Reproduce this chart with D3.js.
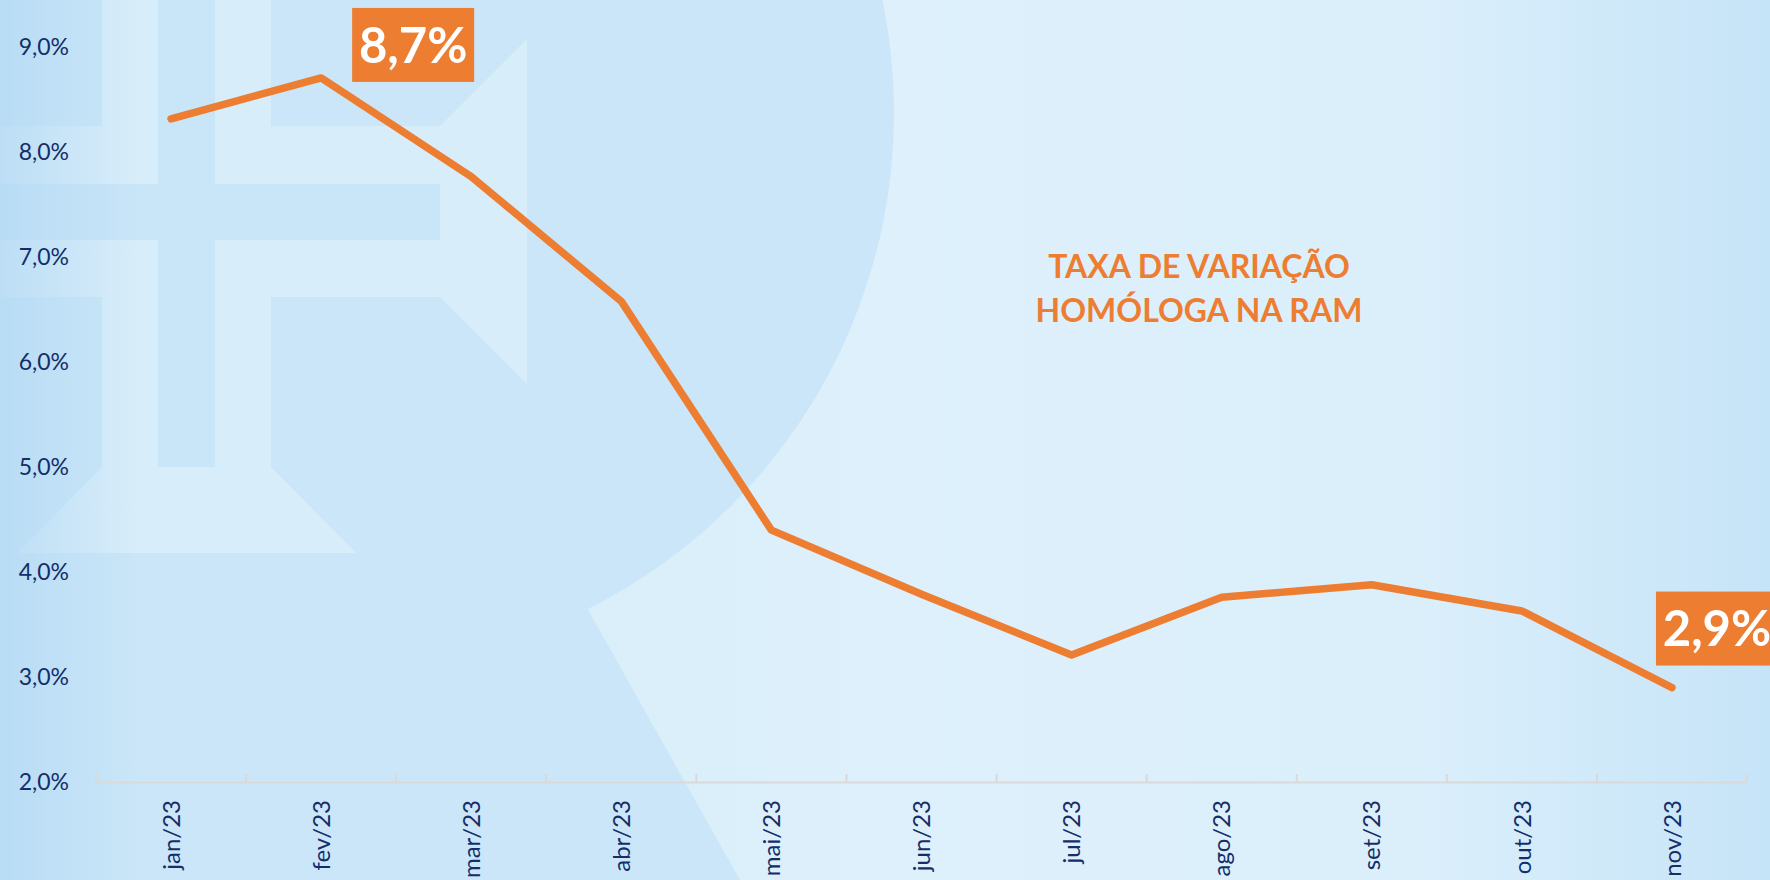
<!DOCTYPE html>
<html>
<head>
<meta charset="utf-8">
<script src="https://cdn.jsdelivr.net/npm/d3@7"></script>
<style>
  html, body { margin: 0; padding: 0; background: #dceffb; }
  svg { display: block; }
</style>
</head>
<body>
<div id="chart"></div>
<script>
// ---- data ----
const months = ["jan/23","fev/23","mar/23","abr/23","mai/23","jun/23","jul/23","ago/23","set/23","out/23","nov/23"];
const values = [8.32, 8.71, 7.77, 6.58, 4.40, 3.79, 3.21, 3.76, 3.88, 3.63, 2.90];
const yTicks = [2, 3, 4, 5, 6, 7, 8, 9];
const yTickLabels = ["2,0%","3,0%","4,0%","5,0%","6,0%","7,0%","8,0%","9,0%"];
const highlighted = ["fev/23", "nov/23"];
const titleLines = ["TAXA DE VARIAÇÃO", "HOMÓLOGA NA RAM"];

// ---- layout / style ----
const W = 1770, H = 880;
const orange = "#ed7d31";
const navy = "#132e69";
const labelPlacement = { "fev/23": { dx: 31, dy: -70 }, "nov/23": { dx: -16, dy: -96 } };

const svg = d3.select("#chart").append("svg").attr("width", W).attr("height", H);
const defs = svg.append("defs");

const bg = defs.append("linearGradient").attr("id", "bg").attr("x1", 0).attr("x2", 1).attr("y1", 0).attr("y2", 0);
[["0%", "#d4ecfa"], ["50%", "#ddf0fb"], ["80%", "#dbeffb"], ["100%", "#c6e4f8"]]
  .forEach(([o, c]) => bg.append("stop").attr("offset", o).attr("stop-color", c));

const leftG = defs.append("linearGradient").attr("id", "leftG").attr("x1", 0).attr("x2", 1).attr("y1", 0).attr("y2", 0);
leftG.append("stop").attr("offset", "0%").attr("stop-color", "#b3d9f4").attr("stop-opacity", 0.75);
leftG.append("stop").attr("offset", "100%").attr("stop-color", "#b3d9f4").attr("stop-opacity", 0);

// ---- background ----
svg.append("rect").attr("width", W).attr("height", H).attr("fill", "url(#bg)");

const darkFill = "#cae6f8";
svg.append("circle").attr("cx", 339).attr("cy", 113).attr("r", 555).attr("fill", darkFill);
svg.append("polygon").attr("points", "0,113 339,113 587,608 740,880 0,880").attr("fill", darkFill);

const lightFill = "#d8edfa";
// cross outline (light)
svg.append("polygon").attr("points", "102,0 271,0 271,467 356,553 17,553 102,467").attr("fill", lightFill);
svg.append("polygon").attr("points", "0,126 440,126 527,39 527,384 440,297 0,297").attr("fill", lightFill);
svg.append("rect").attr("x", 102).attr("y", 126).attr("width", 169).attr("height", 171).attr("fill", lightFill);
// inner bars
svg.append("rect").attr("x", 158).attr("y", 0).attr("width", 57).attr("height", 467).attr("fill", "#c9e5f8");
svg.append("rect").attr("x", 0).attr("y", 184).attr("width", 440).attr("height", 56).attr("fill", "#c9e5f8");

svg.append("rect").attr("width", 140).attr("height", H).attr("fill", "url(#leftG)");

// ---- scales ----
const x = d3.scaleBand().domain(months).range([96, 1747]).paddingInner(0).paddingOuter(0);
const y = d3.scaleLinear().domain([2, 9]).range([782, 47.5]);
const cx = m => x(m) + x.bandwidth() / 2;

// ---- y labels ----
const yAxis = d3.axisLeft(y).tickValues(yTicks).tickSize(0).tickPadding(0)
  .tickFormat((d, i) => yTickLabels[i]);
const gy = svg.append("g").attr("transform", "translate(69,0)").call(yAxis);
gy.select(".domain").remove();
gy.selectAll("text").attr("fill", navy).attr("font-family", "Lato, 'Open Sans', sans-serif")
  .attr("font-size", 23).attr("text-anchor", "end").attr("x", 0);

// ---- x axis ----
const xAxis = d3.axisBottom(x).tickSize(0).tickSizeOuter(0);
const gx = svg.append("g").attr("transform", "translate(0,782)").call(xAxis);
gx.select(".domain").attr("stroke", "#d9d9d9").attr("stroke-width", 2);
gx.selectAll("text")
  .attr("fill", navy).attr("font-family", "Lato, 'Open Sans', sans-serif").attr("font-size", 24)
  .attr("transform", "rotate(-90)").attr("x", -18).attr("y", 0).attr("dy", "0.36em")
  .attr("text-anchor", "end");
const bounds = months.map(m => x(m)).concat([x.range()[1]]);
gx.selectAll("line.bound").data(bounds).join("line").attr("class", "bound")
  .attr("x1", d => d).attr("x2", d => d).attr("y1", 0).attr("y2", -8)
  .attr("stroke", "#d9d9d9").attr("stroke-width", 2);

// ---- line ----
const data = months.map((m, i) => ({ m, v: values[i] }));
const line = d3.line().x(d => cx(d.m)).y(d => y(d.v));
svg.append("path").datum(data).attr("d", line)
  .attr("fill", "none").attr("stroke", orange).attr("stroke-width", 7.5)
  .attr("stroke-linejoin", "round").attr("stroke-linecap", "round");

// ---- highlight labels ----
const fmt = v => d3.format(".1f")(v).replace(".", ",") + "%";
const hl = svg.append("g");
data.filter(d => highlighted.includes(d.m)).forEach(d => {
  const p = labelPlacement[d.m];
  const bx = cx(d.m) + p.dx, by = y(d.v) + p.dy;
  hl.append("rect").attr("x", bx).attr("y", by).attr("width", 122).attr("height", 74).attr("fill", orange);
  hl.append("text").attr("x", bx + 61).attr("y", by + 37).attr("dy", "0.36em")
    .attr("text-anchor", "middle").attr("fill", "#fff")
    .attr("font-family", "Lato, 'Open Sans', sans-serif").attr("font-weight", 700).attr("font-size", 49)
    .text(fmt(d.v));
});

// ---- title ----
svg.append("g").selectAll("text").data(titleLines).join("text")
  .attr("x", 1199).attr("y", (d, i) => 278 + i * 44)
  .attr("text-anchor", "middle").attr("fill", orange)
  .attr("font-family", "Lato, 'Open Sans', sans-serif").attr("font-weight", 700).attr("font-size", 32)
  .text(d => d);
</script>
</body>
</html>
